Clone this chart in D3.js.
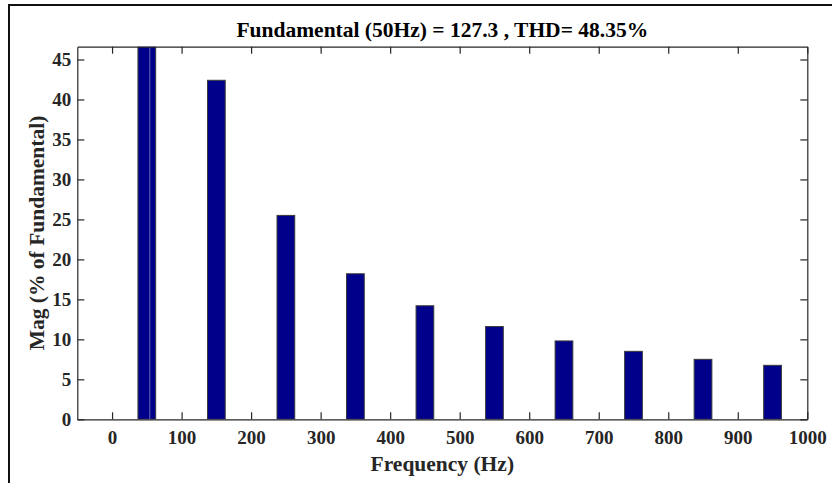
<!DOCTYPE html>
<html><head><meta charset="utf-8">
<script src="https://cdn.jsdelivr.net/npm/d3@7"></script>
<style>body{margin:0;background:#fff}svg{display:block}</style>
</head><body>
<svg id="c" width="832" height="483"></svg>
<script>
const titleText = "Fundamental (50Hz) = 127.3 , THD= 48.35%";
const xLabel = "Frequency (Hz)";
const yLabel = "Mag (% of Fundamental)";
const frequencies = [50, 150, 250, 350, 450, 550, 650, 750, 850, 950];
const magnitudes = [100, 42.4, 25.5, 18.2, 14.2, 11.6, 9.8, 8.5, 7.5, 6.75];
const xTicks = [0, 100, 200, 300, 400, 500, 600, 700, 800, 900, 1000];
const yTicks = [0, 5, 10, 15, 20, 25, 30, 35, 40, 45];
const xDomain = [-50, 1000];
const yDomain = [0, 46.6];
const barWidthHz = 25.5;

const svg = d3.select("#c");
const L = 77.3, R = 807.3, T = 46.7, B = 419.3;
const x = d3.scaleLinear().domain(xDomain).range([L, R]);
const y = d3.scaleLinear().domain(yDomain).range([B, T]);
const axisColor = "#262626";
const font = "'Liberation Serif','Times New Roman',serif";

// outer frame
svg.append("rect").attr("x", 9).attr("y", 5).attr("width", 840).attr("height", 500)
  .attr("fill", "none").attr("stroke", "#111").attr("stroke-width", 2);

svg.append("defs").append("clipPath").attr("id", "clip")
  .append("rect").attr("x", L).attr("y", T).attr("width", R - L).attr("height", B - T);

// bars
const g = svg.append("g").attr("clip-path", "url(#clip)");
g.selectAll("rect.bar").data(frequencies).join("rect")
  .attr("class", "bar")
  .attr("x", (f) => x(f - barWidthHz / 2))
  .attr("width", (f) => x(f + barWidthHz / 2) - x(f - barWidthHz / 2))
  .attr("y", (f, i) => y(magnitudes[i]))
  .attr("height", (f, i) => y(0) - y(magnitudes[i]))
  .attr("fill", "#00008b").attr("stroke", "#3a3a3a").attr("stroke-width", 1);
// faint seam in fundamental bar
g.append("line").attr("x1", x(frequencies[0]) + 3).attr("x2", x(frequencies[0]) + 3)
  .attr("y1", y(magnitudes[0])).attr("y2", y(0))
  .attr("stroke", "#6a6ab8").attr("stroke-width", 1);

// axes
const tl = 7;
const fmt = d3.format("d");
const xb = d3.axisBottom(x).tickValues(xTicks).tickFormat(fmt).tickSizeInner(-tl).tickSizeOuter(0).tickPadding(11.5);
const xt = d3.axisTop(x).tickValues(xTicks).tickSizeInner(-tl).tickSizeOuter(0).tickFormat("");
const yl = d3.axisLeft(y).tickValues(yTicks).tickFormat(fmt).tickSizeInner(-tl).tickSizeOuter(0).tickPadding(6);
const yr = d3.axisRight(y).tickValues(yTicks).tickSizeInner(-tl).tickSizeOuter(0).tickFormat("");

function style(sel) {
  sel.selectAll("path,line").attr("stroke", axisColor).attr("stroke-width", 1.2);
  sel.selectAll("text").attr("fill", "#262626").attr("font-family", font)
    .attr("font-weight", "bold").attr("font-size", "19px");
}
svg.append("g").attr("transform", `translate(0,${B})`).call(xb).call(style);
svg.append("g").attr("transform", `translate(0,${T})`).call(xt).call(style);
svg.append("g").attr("transform", `translate(${L},0)`).call(yl).call(style);
svg.append("g").attr("transform", `translate(${R},0)`).call(yr).call(style);

// title & labels
svg.append("text").attr("x", (L + R) / 2).attr("y", 37).attr("text-anchor", "middle")
  .attr("font-family", font).attr("font-weight", "bold").attr("font-size", "21.5px")
  .attr("fill", "#000").text(titleText);
svg.append("text").attr("x", (L + R) / 2).attr("y", 471).attr("text-anchor", "middle")
  .attr("font-family", font).attr("font-weight", "bold").attr("font-size", "21.5px")
  .attr("fill", "#262626").text(xLabel);
svg.append("text").attr("transform", `translate(44,${(T + B) / 2}) rotate(-90)`)
  .attr("text-anchor", "middle")
  .attr("font-family", font).attr("font-weight", "bold").attr("font-size", "21.5px")
  .attr("fill", "#262626").text(yLabel);
</script>
</body></html>
